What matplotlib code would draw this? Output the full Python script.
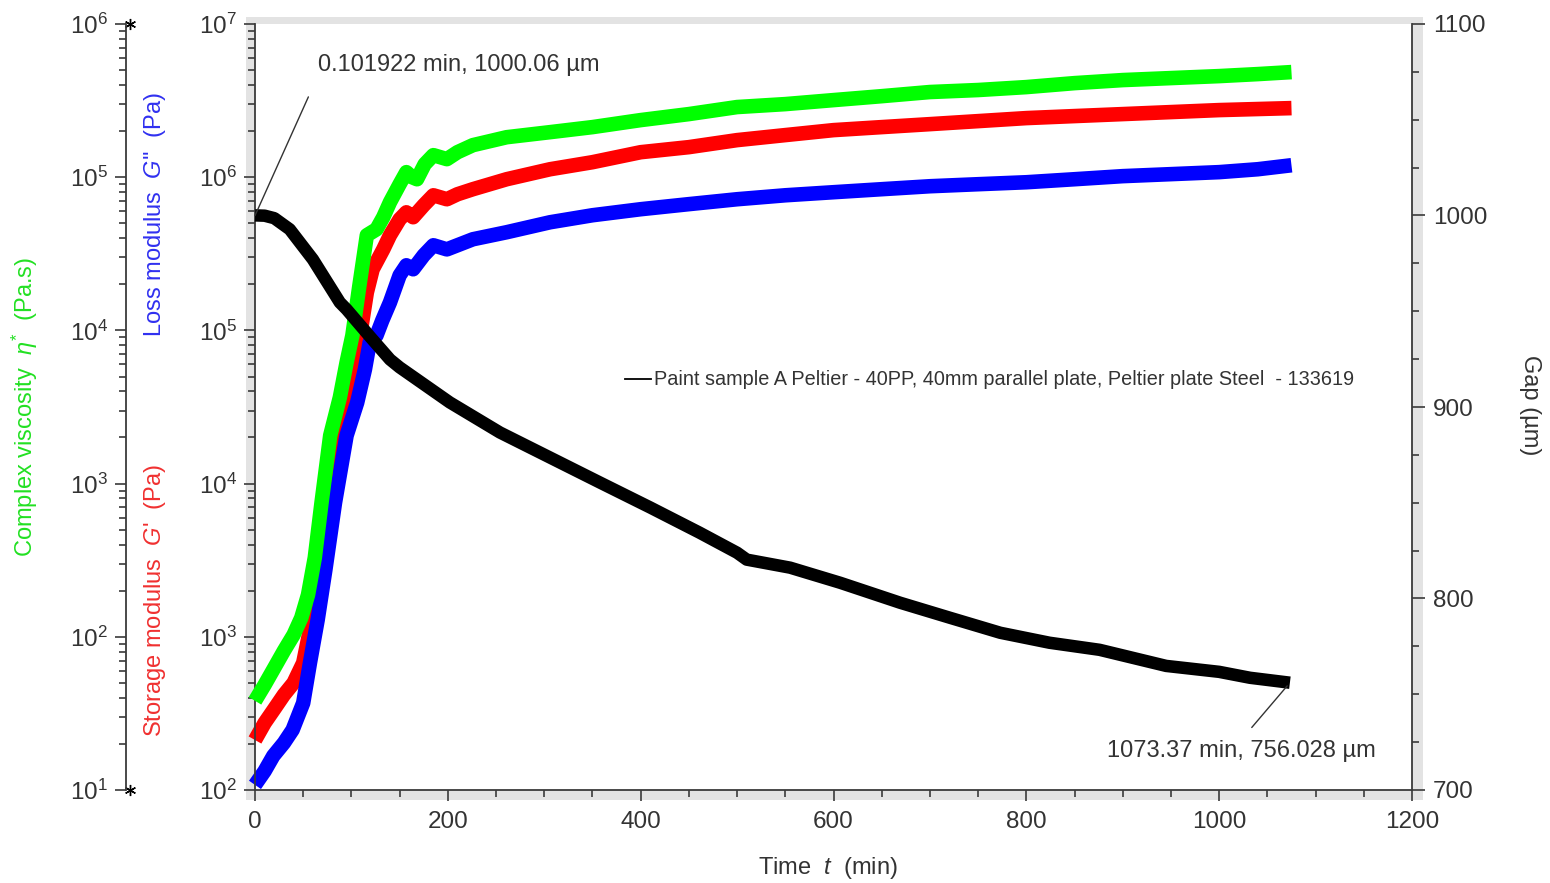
import matplotlib
matplotlib.use('Agg')
import matplotlib.pyplot as plt
from matplotlib.ticker import LogLocator, LogFormatterMathtext, MultipleLocator, NullFormatter
from matplotlib.patches import Rectangle
from matplotlib.lines import Line2D

plt.rcParams['font.family'] = ['Liberation Sans', 'DejaVu Sans']
plt.rcParams['mathtext.fontset'] = 'custom'
plt.rcParams['mathtext.rm'] = 'Liberation Sans'
plt.rcParams['mathtext.it'] = 'Liberation Sans:italic'
plt.rcParams['mathtext.bf'] = 'Liberation Sans:bold'

# ---------------- data ----------------
# Storage modulus G' (Pa)
t_gp = [0, 10, 20, 30, 40, 50, 57, 64, 68, 74, 86, 98, 109, 116, 122, 133, 140, 150,
        157, 164, 175, 185, 199, 210, 226, 261, 306, 350, 400, 450, 500, 550, 600,
        650, 700, 750, 800, 850, 900, 950, 1000, 1075]
gp = [212, 274, 338, 418, 500, 676, 1111, 1940, 3283, 7516, 20600, 45700, 92700,
      177000, 250600, 338000, 417800, 531000, 590000, 548000, 656000, 762000, 718000,
      774000, 835000, 970000, 1127000, 1253000, 1456000, 1571000, 1746000, 1883000,
      2029000, 2123000, 2220000, 2323000, 2431000, 2506000, 2582000, 2661000, 2742000,
      2825000]

# Loss modulus G'' (Pa)
t_gpp = [0, 10, 19, 30, 39, 50, 57, 65, 73, 83, 95, 106, 114, 119, 126, 132, 140, 150,
         157, 164, 175, 185, 199, 226, 261, 306, 350, 400, 450, 500, 550, 600, 650,
         700, 750, 800, 850, 900, 950, 1000, 1040, 1075]
gpp = [108, 133, 167, 203, 247, 370, 676, 1291, 2742, 7516, 20600, 33850, 55600, 83500,
       92700, 116200, 152400, 228700, 266000, 250600, 309000, 359500, 338000, 393500,
       437300, 508000, 564500, 618000, 667000, 718000, 762000, 798000, 835000, 873000,
       900000, 927000, 970000, 1016000, 1047000, 1079000, 1127000, 1197000]

# Complex viscosity eta* (Pa.s)
t_eta = [0, 10, 20, 30, 40, 48, 55, 62, 69, 78, 88, 95, 101, 108, 116, 126, 133, 140,
         150, 157, 163, 168, 176, 185, 199, 210, 226, 261, 306, 350, 400, 450, 500, 550,
         600, 650, 700, 750, 800, 850, 900, 950, 1000, 1040, 1075]
eta = [38.2, 48.6, 62.7, 81.0, 103, 133, 188, 328, 752, 2060, 3650, 6180, 9270, 19100,
       41800, 45700, 54800, 68700, 90000, 107900, 100000, 97000, 121600, 139300, 131200,
       145600, 161900, 182400, 196800, 212300, 235900, 258200, 287000, 300000, 318600,
       338000, 359700, 370700, 387400, 411200, 430500, 443600, 457000, 471000, 485400]

# Gap (um)
t_gap = [0.101922, 10, 20, 36, 60, 88, 95, 120, 140, 150, 202, 254, 306, 358, 410, 461,
         500, 510, 555, 607, 669, 721, 773, 824, 876, 945, 1000, 1032, 1073.37]
gap = [1000.06, 999.9, 998.6, 992.8, 977.1, 954.6, 951.0, 936.3, 924.8, 920.7, 902.4,
       886.7, 873.6, 860.5, 847.5, 834.4, 823.9, 820.3, 816.1, 808.2, 797.8, 789.9, 782.1,
       776.9, 773.2, 764.8, 761.7, 758.6, 756.028]

legend_label = "Paint sample A Peltier - 40PP, 40mm parallel plate, Peltier plate Steel  - 133619"
ann_start = "0.101922 min, 1000.06 \u00b5m"
ann_end = "1073.37 min, 756.028 \u00b5m"

# ---------------- figure ----------------
W, H = 1550, 883
fig = plt.figure(figsize=(W / 100, H / 100), dpi=100)
fig.patch.set_facecolor('white')
L, R, T, B = 255, 1412, 24, 790
ax = fig.add_axes([L / W, 1 - B / H, (R - L) / W, (B - T) / H])
ax.set_facecolor('white')

# gray shadow frame
fig.add_artist(Rectangle((246 / W, 1 - 800 / H), (1423 - 246) / W, (800 - 17) / H,
                         transform=fig.transFigure, facecolor='#e3e3e3',
                         edgecolor='none', zorder=-1))

ax_eta = ax.twinx()
ax_gap = ax.twinx()

txt = '#333333'
spc = '#3a3a3a'

# main axis (G', G'')
ax.set_xlim(0, 1200)
ax.set_yscale('log')
ax.set_ylim(1e2, 1e7)
ax.plot(t_gp, gp, color='#ff0000', lw=10.5, solid_capstyle='butt', clip_on=False)
ax.plot(t_gpp, gpp, color='#0000ff', lw=10.5, solid_capstyle='butt', clip_on=False)

# eta axis
ax_eta.set_yscale('log')
ax_eta.set_ylim(1e1, 1e6)
ax_eta.plot(t_eta, eta, color='#00ff00', lw=10.5, solid_capstyle='butt', clip_on=False)

# gap axis
ax_gap.set_ylim(700, 1100)
ax_gap.plot(t_gap, gap, color='black', lw=9, solid_capstyle='butt', clip_on=False)

# spines
for s in ['top', 'right']:
    ax.spines[s].set_visible(False)
for s in ['left', 'bottom']:
    ax.spines[s].set_color(spc)
    ax.spines[s].set_linewidth(1.3)

for s in ['top', 'bottom', 'right']:
    ax_eta.spines[s].set_visible(False)
ax_eta.spines['left'].set_visible(True)
ax_eta.spines['left'].set_position(('axes', (126 - L) / (R - L)))
ax_eta.spines['left'].set_color(spc)
ax_eta.spines['left'].set_linewidth(1.3)
ax_eta.yaxis.set_ticks_position('left')
ax_eta.yaxis.set_label_position('left')

for s in ['top', 'bottom', 'left']:
    ax_gap.spines[s].set_visible(False)
ax_gap.spines['right'].set_color(spc)
ax_gap.spines['right'].set_linewidth(1.3)

# ticks
fs = 17.5
ax.xaxis.set_major_locator(MultipleLocator(200))
ax.xaxis.set_minor_locator(MultipleLocator(50))
ax.tick_params(axis='x', which='major', direction='out', length=8, width=1.2,
               color=spc, labelsize=fs, labelcolor=txt, pad=7)
ax.tick_params(axis='x', which='minor', direction='out', length=5, width=1.2, color=spc)

for a in (ax, ax_eta):
    a.yaxis.set_major_locator(LogLocator(base=10, numticks=10))
    a.yaxis.set_minor_locator(LogLocator(base=10, subs=range(2, 10), numticks=10))
    a.yaxis.set_major_formatter(LogFormatterMathtext())
    a.yaxis.set_minor_formatter(NullFormatter())
    a.tick_params(axis='y', which='major', direction='out', length=8, width=1.2,
                  color=spc, labelsize=fs, labelcolor=txt, pad=5)
    a.tick_params(axis='y', which='minor', direction='out', length=5, width=1.2, color=spc)

ax_gap.yaxis.set_major_locator(MultipleLocator(100))
ax_gap.yaxis.set_minor_locator(MultipleLocator(25))
ax_gap.tick_params(axis='y', which='major', direction='out', length=9, width=1.2,
                   color=spc, labelsize=fs, labelcolor=txt, pad=6)
ax_gap.tick_params(axis='y', which='minor', direction='out', length=5, width=1.2, color=spc)

# asterisks at the ends of the viscosity axis
ax_eta.plot([(130 - L) / (R - L)] * 2, [1e6, 1e1], linestyle='none', marker=(6, 2, 0),
            markersize=8, color='black', mew=1.0, clip_on=False,
            transform=ax_eta.get_yaxis_transform())

# axis labels
lfs = 17
fig.text(828 / W, 1 - 868 / H, r'Time  $t$  (min)', ha='center', va='center',
         fontsize=lfs, color=txt)
fig.text(1530 / W, 1 - 405 / H, 'Gap (\u00b5m)', rotation=270, ha='center',
         va='center', fontsize=lfs, color=txt)
fig.text(25 / W, 1 - 407 / H, r'Complex viscosity  $\eta^{*}$  (Pa.s)', rotation=90,
         ha='center', va='center', fontsize=lfs, color='#22e022')
fig.text(155 / W, 1 - 215 / H, r"Loss modulus  $G$''  (Pa)", rotation=90,
         ha='center', va='center', fontsize=lfs, color='#3030f0')
fig.text(155 / W, 1 - 600 / H, r"Storage modulus  $G$'  (Pa)", rotation=90,
         ha='center', va='center', fontsize=lfs, color='#f03030')

# legend
handle = Line2D([], [], color='black', lw=1.3)
leg = ax_gap.legend([handle], [legend_label], loc='center left',
                    bbox_to_anchor=((625 - L) / (R - L), (B - 380) / (B - T)),
                    frameon=False, fontsize=14.3, handlelength=1.3, handletextpad=0.15,
                    borderpad=0, borderaxespad=0)
for t in leg.get_texts():
    t.set_color(txt)

# annotations
ax_gap.annotate(ann_start, xy=(t_gap[0], gap[0]), xytext=(45, 108),
                textcoords='offset points', ha='left', va='center', fontsize=17,
                color=txt,
                arrowprops=dict(arrowstyle='-', color='#333333', lw=1.0,
                                relpos=(0, 0), shrinkA=14, shrinkB=0))
ax_gap.annotate(ann_end, xy=(t_gap[-1], gap[-1]), xytext=(-35, -49),
                textcoords='offset points', ha='center', va='center', fontsize=17,
                color=txt,
                arrowprops=dict(arrowstyle='-', color='#333333', lw=1.0,
                                relpos=(0.5, 1), shrinkA=9, shrinkB=3))

fig.savefig('out.png', dpi=100)
